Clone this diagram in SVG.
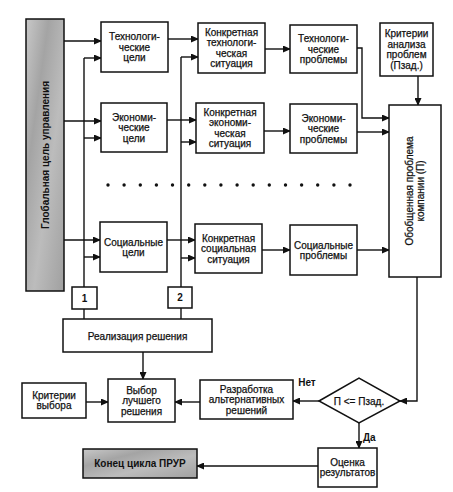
<svg xmlns="http://www.w3.org/2000/svg" width="453" height="492" viewBox="0 0 453 492">
<style>
  .box{fill:#fff;stroke:#111;stroke-width:1.5}
  .gray{fill:url(#grayfill);stroke:#111;stroke-width:1.5}
  .t{font-family:"Liberation Sans",Arial,sans-serif;font-size:10px;fill:#111;text-anchor:middle;stroke:#111;stroke-width:0.25}
  .b{font-weight:bold;stroke-width:0}
  .c{fill:none;stroke:#111;stroke-width:1.4}
  .a{marker-end:url(#arr)}
</style>
<defs>
  <marker id="arr" markerWidth="8" markerHeight="7" refX="7" refY="3.5" orient="auto" markerUnits="userSpaceOnUse">
    <path d="M0,0 L8,3.5 L0,7 Z" fill="#111"/>
  </marker>
  <linearGradient id="grayfill" x1="0" y1="0" x2="1" y2="1">
    <stop offset="0" stop-color="#c8c8c8"/>
    <stop offset="0.3" stop-color="#a4a4a4"/>
    <stop offset="0.6" stop-color="#bcbcbc"/>
    <stop offset="1" stop-color="#a0a0a0"/>
  </linearGradient>
</defs>

<g id="connectors">
  <path class="c a" d="M64,41 H101"/>
  <path class="c a" d="M64,121 H101"/>
  <path class="c a" d="M64,240 H100"/>
  <path class="c" d="M84,287 V58"/>
  <path class="c" d="M84,309 V319"/>
  <path class="c a" d="M84,58 H101"/>
  <path class="c a" d="M84,138 H101"/>
  <path class="c a" d="M84,257 H100"/>
  <path class="c" d="M181,287 V57"/>
  <path class="c" d="M181,308 V319"/>
  <path class="c a" d="M181,57 H198"/>
  <path class="c a" d="M181,142 H196"/>
  <path class="c a" d="M181,258 H195"/>
  <path class="c a" d="M168,39 H198"/>
  <path class="c a" d="M167,120 H196"/>
  <path class="c a" d="M167,240 H195"/>
  <path class="c a" d="M265,49 H290"/>
  <path class="c a" d="M264,131 H290"/>
  <path class="c a" d="M262,250 H290"/>
  <path class="c a" d="M357,48 H362 V118 H389"/>
  <path class="c a" d="M357,132 H389"/>
  <path class="c a" d="M357,250 H389"/>
  <path class="c a" d="M418,76 V105"/>
  <path class="c a" d="M417,277 V401 H400"/>
  <path class="c a" d="M319,401 H293"/>
  <path class="c a" d="M200,402 H175"/>
  <path class="c a" d="M86,402 H108"/>
  <path class="c a" d="M143,352 V379"/>
  <path class="c a" d="M359,423 V448"/>
  <path class="c a" d="M318,466 H197"/>
  <g id="dots" fill="#111">
    <circle cx="108" cy="185" r="1.7"/><circle cx="124.1" cy="185" r="1.7"/><circle cx="140.3" cy="185" r="1.7"/><circle cx="156.4" cy="185" r="1.7"/>
    <circle cx="172.5" cy="185" r="1.7"/><circle cx="188.7" cy="185" r="1.7"/><circle cx="204.8" cy="185" r="1.7"/><circle cx="220.9" cy="185" r="1.7"/>
    <circle cx="237.1" cy="185" r="1.7"/><circle cx="253.2" cy="185" r="1.7"/><circle cx="269.3" cy="185" r="1.7"/><circle cx="285.5" cy="185" r="1.7"/>
    <circle cx="301.6" cy="185" r="1.7"/><circle cx="317.7" cy="185" r="1.7"/><circle cx="333.9" cy="185" r="1.7"/><circle cx="350" cy="185" r="1.7"/>
  </g>
  <text class="t b" x="307" y="386">Нет</text>
  <text class="t b" x="363" y="441" style="text-anchor:start">Да</text>
</g>

<g id="global">
  <rect class="gray" x="26" y="19" width="38" height="272"/>
  <text class="t b" transform="translate(45,155) rotate(-90)" x="0" y="3.5">Глобальная цель управления</text>
</g>

<g id="tech-goals">
  <rect class="box" x="101" y="22" width="67" height="50"/>
  <text class="t" x="134.5" y="40">Технологи-<tspan x="134.5" dy="10.5">ческие</tspan><tspan x="134.5" dy="10.5">цели</tspan></text>
</g>
<g id="econ-goals">
  <rect class="box" x="101" y="103" width="66" height="49"/>
  <text class="t" x="134" y="120.5">Экономи-<tspan x="134" dy="10.5">ческие</tspan><tspan x="134" dy="10.5">цели</tspan></text>
</g>
<g id="social-goals">
  <rect class="box" x="100" y="222" width="67" height="50"/>
  <text class="t" x="133.5" y="245.5">Социальные<tspan x="133.5" dy="10.5">цели</tspan></text>
</g>

<g id="tech-situation">
  <rect class="box" x="198" y="23" width="67" height="50"/>
  <text class="t" x="231.5" y="35.75">Конкретная<tspan x="231.5" dy="10.5">технологи-</tspan><tspan x="231.5" dy="10.5">ческая</tspan><tspan x="231.5" dy="10.5">ситуация</tspan></text>
</g>
<g id="econ-situation">
  <rect class="box" x="196" y="103" width="68" height="50"/>
  <text class="t" x="230" y="115.75">Конкретная<tspan x="230" dy="10.5">экономи-</tspan><tspan x="230" dy="10.5">ческая</tspan><tspan x="230" dy="10.5">ситуация</tspan></text>
</g>
<g id="social-situation">
  <rect class="box" x="195" y="224" width="67" height="49"/>
  <text class="t" x="228.5" y="241.5">Конкретная<tspan x="228.5" dy="10.5">социальная</tspan><tspan x="228.5" dy="10.5">ситуация</tspan></text>
</g>

<g id="tech-problems">
  <rect class="box" x="290" y="25" width="67" height="48"/>
  <text class="t" x="323.5" y="42">Технологи-<tspan x="323.5" dy="10.5">ческие</tspan><tspan x="323.5" dy="10.5">проблемы</tspan></text>
</g>
<g id="econ-problems">
  <rect class="box" x="290" y="104" width="67" height="49"/>
  <text class="t" x="323.5" y="121.5">Экономи-<tspan x="323.5" dy="10.5">ческие</tspan><tspan x="323.5" dy="10.5">проблемы</tspan></text>
</g>
<g id="social-problems">
  <rect class="box" x="290" y="225" width="67" height="50"/>
  <text class="t" x="323.5" y="248.5">Социальные<tspan x="323.5" dy="10.5">проблемы</tspan></text>
</g>

<g id="analysis-criteria">
  <rect class="box" x="380" y="23" width="53" height="53"/>
  <text class="t" x="406.5" y="37.25">Критерии<tspan x="406.5" dy="10.5">анализа</tspan><tspan x="406.5" dy="10.5">проблем</tspan><tspan x="406.5" dy="10.5">(Пзад.)</tspan></text>
</g>

<g id="general-problem">
  <rect class="box" x="389" y="105" width="52" height="172"/>
  <text class="t" transform="translate(415,191) rotate(-90)" x="0" y="-1.75">Обобщенная проблема<tspan x="0" dy="10.5">компании (П)</tspan></text>
</g>

<g id="marker-1">
  <rect class="box" x="72" y="287" width="25" height="22"/>
  <text class="t b" x="84.5" y="301.5">1</text>
</g>
<g id="marker-2">
  <rect class="box" x="168" y="287" width="24" height="21"/>
  <text class="t b" x="180" y="301">2</text>
</g>

<g id="implementation">
  <rect class="box" x="63" y="319" width="149" height="33"/>
  <text class="t" x="137.5" y="339.5">Реализация решения</text>
</g>

<g id="choice">
  <rect class="box" x="108" y="379" width="67" height="43"/>
  <text class="t" x="141.5" y="393.5">Выбор<tspan x="141.5" dy="10.5">лучшего</tspan><tspan x="141.5" dy="10.5">решения</tspan></text>
</g>
<g id="choice-criteria">
  <rect class="box" x="22" y="383" width="64" height="35"/>
  <text class="t" x="54" y="398.75">Критерии<tspan x="54" dy="10.5">выбора</tspan></text>
</g>
<g id="alternatives">
  <rect class="box" x="200" y="380" width="93" height="39"/>
  <text class="t" x="246.5" y="392.5">Разработка<tspan x="246.5" dy="10.5">альтернативных</tspan><tspan x="246.5" dy="10.5">решений</tspan></text>
</g>

<g id="decision">
  <polygon class="box" points="319,401 359,378 400,401 359,423"/>
  <text class="t" x="359" y="404.5">П &lt;= Пзад.</text>
</g>

<g id="evaluation">
  <rect class="box" x="318" y="448" width="59" height="39"/>
  <text class="t" x="347.5" y="465.75">Оценка<tspan x="347.5" dy="10.5">результатов</tspan></text>
</g>

<g id="end">
  <rect class="gray" x="83" y="449" width="114" height="29"/>
  <text class="t b" x="140" y="467">Конец цикла ПРУР</text>
</g>
</svg>
